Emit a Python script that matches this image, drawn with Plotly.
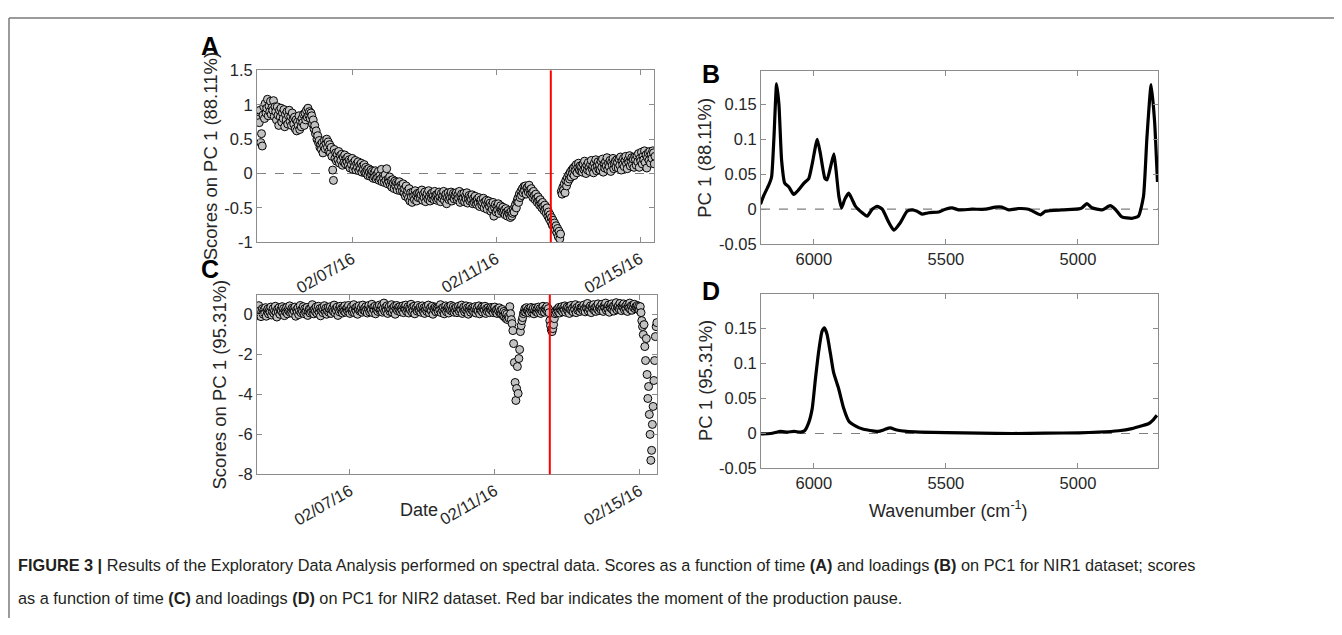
import pandas as pd
import plotly.graph_objects as go

SCREEN_W, SCREEN_H = 1342, 635
PAGE_MARGIN = 8  # default body margin of the html page
W, H = SCREEN_W - 2 * PAGE_MARGIN, SCREEN_H - 2 * PAGE_MARGIN

# ---------------- data ----------------
nir1_start = "2016-02-04 09:00"
nir2_start = "2016-02-04 10:00"
sampling = "30min"
pause_time = "2016-02-12 12:30"

date_tickvals = ["2016-02-07", "2016-02-11", "2016-02-15"]
date_ticktext = ["02/07/16", "02/11/16", "02/15/16"]

# PC1 scores, NIR1 (one row = 12 h)
scores_nir1 = [
    0.82, 0.90, 0.74, 0.92, 0.45, 0.58, 0.40, 0.85, 0.97, 0.80, 1.02, 0.88, 0.95, 1.08, 0.84, 0.98, 0.90, 1.05, 0.86, 0.96, 0.92, 1.06, 0.83, 0.97,
    0.90, 0.78, 0.97, 0.85, 0.70, 0.92, 0.82, 0.95, 0.75, 0.88, 0.80, 0.93, 0.68, 0.86, 0.78, 0.90, 0.72, 0.84, 0.92, 0.76, 0.83, 0.70, 0.88, 0.79,
    0.72, 0.82, 0.65, 0.78, 0.62, 0.75, 0.70, 0.84, 0.64, 0.76, 0.68, 0.80, 0.74, 0.86, 0.70, 0.88, 0.78, 0.92, 0.82, 0.95, 0.85, 0.90, 0.80, 0.88,
    0.84, 0.72, 0.78, 0.65, 0.70, 0.58, 0.62, 0.50, 0.55, 0.45, 0.48, 0.38, 0.42, 0.35, 0.45, 0.30, 0.40, 0.48, 0.36, 0.44, 0.50, 0.38, 0.46, 0.32,
    0.42, 0.30, 0.38, 0.25, 0.05, -0.10, 0.35, 0.22, 0.30, 0.18, 0.28, 0.20, 0.32, 0.15, 0.26, 0.19, 0.28, 0.12, 0.24, 0.16, 0.27, 0.14, 0.22, 0.17,
    0.24, 0.12, 0.20, 0.08, 0.18, 0.13, 0.22, 0.06, 0.16, 0.10, 0.19, 0.05, 0.14, 0.09, 0.17, 0.04, 0.12, 0.07, 0.15, 0.02, 0.11, 0.06, 0.13, 0.01,
    0.09, 0.00, 0.06, -0.03, 0.07, 0.02, -0.04, 0.05, -0.02, 0.03, -0.07, 0.01, -0.05, 0.04, -0.08, -0.01, -0.06, 0.03, -0.10, -0.03, -0.08, 0.06, -0.12, -0.04,
    -0.07, -0.13, -0.02, -0.10, 0.07, -0.15, -0.08, -0.12, -0.05, -0.17, -0.10, -0.20, -0.09, -0.14, -0.22, -0.11, -0.18, -0.13, -0.24, -0.15, -0.19, -0.12, -0.25, -0.17,
    -0.20, -0.26, -0.15, -0.28, -0.22, -0.33, -0.18, -0.30, -0.25, -0.36, -0.22, -0.40, -0.28, -0.34, -0.42, -0.27, -0.33, -0.38, -0.25, -0.31, -0.40, -0.29, -0.35, -0.30,
    -0.28, -0.36, -0.31, -0.24, -0.39, -0.30, -0.35, -0.27, -0.41, -0.33, -0.29, -0.37, -0.25, -0.34, -0.40, -0.30, -0.36, -0.28, -0.33, -0.38, -0.26, -0.35, -0.31, -0.39,
    -0.30, -0.37, -0.27, -0.34, -0.41, -0.29, -0.36, -0.32, -0.26, -0.39, -0.33, -0.30, -0.44, -0.35, -0.28, -0.38, -0.32, -0.36, -0.27, -0.40, -0.34, -0.29, -0.37, -0.31,
    -0.33, -0.28, -0.38, -0.31, -0.36, -0.26, -0.42, -0.34, -0.30, -0.39, -0.35, -0.29, -0.41, -0.33, -0.37, -0.28, -0.43, -0.36, -0.32, -0.40, -0.34, -0.38, -0.31, -0.44,
    -0.36, -0.42, -0.33, -0.40, -0.45, -0.37, -0.43, -0.35, -0.48, -0.40, -0.38, -0.46, -0.42, -0.36, -0.50, -0.41, -0.45, -0.39, -0.52, -0.44, -0.40, -0.48, -0.43, -0.55,
    -0.46, -0.52, -0.42, -0.62, -0.50, -0.45, -0.56, -0.48, -0.53, -0.44, -0.58, -0.50, -0.47, -0.55, -0.52, -0.49, -0.57, -0.53, -0.60, -0.51, -0.56, -0.62, -0.54, -0.58,
    -0.60, -0.64, -0.55, -0.62, -0.58, -0.52, -0.56, -0.48, -0.45, -0.50, -0.40, -0.36, -0.42, -0.30, -0.35, -0.26, -0.32, -0.22, -0.28, -0.19, -0.25, -0.18, -0.30, -0.21,
    -0.20, -0.27, -0.17, -0.24, -0.30, -0.22, -0.28, -0.35, -0.26, -0.32, -0.38, -0.30, -0.36, -0.42, -0.34, -0.40, -0.46, -0.38, -0.44, -0.50, -0.42, -0.48, -0.54, -0.46,
    -0.52, -0.58, -0.50, -0.62, -0.56, -0.66, -0.60, -0.70, -0.64, -0.75, -0.68, -0.78, -0.72, -0.82, -0.76, -0.86, -0.80, -0.92, -0.84, -0.95, -0.88, -0.26, -0.30, -0.20,
    -0.24, -0.15, -0.28, -0.10, -0.18, -0.06, -0.12, -0.02, -0.08, 0.02, -0.05, 0.05, 0.00, 0.08, -0.03, 0.10, 0.04, 0.13, 0.01, 0.09, 0.15, 0.05, 0.11, 0.03,
    0.10, 0.02, 0.14, 0.06, 0.18, 0.08, 0.00, 0.12, 0.05, 0.16, 0.09, 0.03, 0.13, 0.19, 0.07, 0.11, 0.01, 0.15, 0.08, 0.20, 0.04, 0.12, 0.17, 0.06,
    0.13, 0.05, 0.18, 0.09, 0.21, 0.02, 0.14, 0.08, 0.17, 0.11, 0.23, 0.06, 0.15, 0.10, 0.19, 0.03, 0.16, 0.12, 0.22, 0.07, 0.14, 0.18, 0.09, 0.20,
    0.16, 0.08, 0.21, 0.12, 0.24, 0.05, 0.18, 0.13, 0.22, 0.10, 0.19, 0.25, 0.14, 0.07, 0.20, 0.16, 0.26, 0.11, 0.18, 0.23, 0.13, 0.21, 0.09, 0.24,
    0.20, 0.12, 0.26, 0.17, 0.29, 0.09, 0.22, 0.18, 0.31, 0.14, 0.25, 0.20, 0.33, 0.16, 0.27, 0.08, 0.23, 0.30, 0.19, 0.32, 0.15, 0.28, 0.22, 0.33,
    0.30, 0.14, 0.25,
]

# PC1 scores, NIR2 (one row = 12 h)
scores_nir2 = [
    0.05, -0.05, 0.10, 0.45, 0.00, 0.20, -0.10, 0.15, 0.30, 0.02, 0.25, 0.08, 0.35, -0.08, 0.18, 0.28, 0.04, 0.22, 0.12, 0.38, -0.02, 0.16, 0.30, 0.06,
    0.20, 0.42, 0.10, -0.12, 0.28, 0.14, 0.35, 0.02, 0.24, 0.18, 0.40, 0.08, 0.30, -0.05, 0.22, 0.12, 0.36, 0.04, 0.26, 0.16, 0.44, 0.10, 0.20, 0.32,
    0.06, 0.28, 0.18, 0.38, -0.08, 0.24, 0.14, 0.34, 0.00, 0.20, 0.46, 0.10, 0.26, 0.16, 0.40, 0.05, 0.30, 0.12, 0.22, 0.36, -0.04, 0.18, 0.28, 0.08,
    0.32, 0.14, 0.50, 0.20, 0.04, 0.28, 0.16, 0.38, 0.08, 0.24, 0.42, 0.12, 0.30, -0.06, 0.22, 0.34, 0.10, 0.26, 0.45, 0.15, 0.32, 0.02, 0.20, 0.36,
    0.12, 0.28, 0.40, 0.06, 0.24, 0.34, 0.16, 0.48, 0.10, 0.30, 0.20, 0.38, -0.04, 0.26, 0.14, 0.42, 0.22, 0.32, 0.08, 0.36, 0.18, 0.44, 0.12, 0.28,
    0.34, 0.16, 0.46, 0.22, 0.06, 0.30, 0.40, 0.14, 0.26, 0.50, 0.10, 0.32, 0.20, 0.38, 0.02, 0.28, 0.44, 0.18, 0.24, 0.36, 0.12, 0.48, 0.22, 0.30,
    0.18, 0.40, 0.26, 0.08, 0.34, 0.46, 0.14, 0.30, 0.22, 0.52, 0.10, 0.36, 0.24, 0.42, 0.04, 0.28, 0.38, 0.16, 0.32, 0.48, 0.20, 0.26, 0.44, 0.12,
    0.30, 0.58, 0.18, 0.36, 0.24, 0.44, 0.06, 0.32, 0.40, 0.16, 0.28, 0.50, 0.12, 0.34, 0.22, 0.42, 0.02, 0.30, 0.46, 0.20, 0.36, 0.26, 0.40, 0.14,
    0.32, 0.22, 0.44, 0.10, 0.36, 0.28, 0.48, 0.16, 0.30, 0.40, 0.08, 0.34, 0.24, 0.52, 0.14, 0.38, 0.20, 0.42, 0.04, 0.30, 0.36, 0.18, 0.46, 0.26,
    0.22, 0.38, 0.12, 0.30, 0.44, 0.18, 0.34, 0.06, 0.28, 0.40, 0.16, 0.32, 0.48, 0.10, 0.26, 0.36, 0.20, 0.42, 0.02, 0.30, 0.24, 0.38, 0.14, 0.34,
    0.28, 0.16, 0.40, 0.24, 0.50, 0.10, 0.32, 0.20, 0.36, 0.04, 0.26, 0.44, 0.14, 0.30, 0.38, 0.08, 0.34, 0.22, 0.46, 0.18, 0.28, 0.40, 0.12, 0.32,
    0.20, 0.36, 0.10, 0.28, 0.42, 0.16, 0.32, 0.24, 0.48, 0.06, 0.30, 0.38, 0.14, 0.26, 0.44, 0.18, 0.34, 0.02, 0.28, 0.40, 0.12, 0.30, 0.22, 0.36,
    0.14, 0.30, 0.40, 0.08, 0.26, 0.36, 0.18, 0.44, 0.04, 0.28, 0.20, 0.38, 0.12, 0.32, 0.24, 0.42, 0.06, 0.30, 0.16, 0.34, 0.22, 0.10, 0.28, 0.36,
    0.20, 0.32, 0.10, 0.28, 0.38, 0.14, 0.24, 0.06, 0.30, 0.18, 0.34, 0.08, 0.22, 0.02, 0.26, -0.05, 0.16, -0.12, 0.08, -0.20, 0.02, -0.25, -0.10, -0.18,
    0.40, 0.05, -0.25, -0.45, -0.80, -1.45, -2.40, -3.40, -4.30, -3.70, -2.60, -3.95, -2.20, -1.75, -0.85, -0.55, -0.30, -0.15, 0.05, 0.15, 0.30, 0.12, 0.35, 0.20,
    0.18, 0.30, 0.08, 0.26, 0.36, 0.12, 0.24, 0.32, 0.04, 0.22, 0.34, 0.14, 0.28, 0.10, 0.38, 0.20, 0.30, 0.06, 0.26, 0.16, 0.42, 0.22, 0.12, 0.30,
    0.25, 0.40, 0.15, 0.30, 0.10, -0.30, -0.55, -0.75, -0.85, -0.70, -0.50, -0.20, 0.05, 0.20, 0.10, 0.28, 0.16, 0.36, 0.08, 0.30, 0.22, 0.40, 0.14, 0.32,
    0.24, 0.44, 0.12, 0.30, 0.38, 0.18, 0.34, 0.06, 0.28, 0.46, 0.20, 0.32, 0.14, 0.40, 0.26, 0.50, 0.10, 0.36, 0.22, 0.30, 0.44, 0.16, 0.34, 0.28,
    0.36, 0.20, 0.48, 0.28, 0.14, 0.40, 0.32, 0.56, 0.18, 0.34, 0.26, 0.44, 0.10, 0.38, 0.30, 0.50, 0.22, 0.36, 0.16, 0.42, 0.28, 0.54, 0.20, 0.34,
    0.40, 0.24, 0.52, 0.30, 0.16, 0.44, 0.36, 0.58, 0.22, 0.38, 0.28, 0.48, 0.12, 0.40, 0.32, 0.54, 0.26, 0.42, 0.18, 0.46, 0.34, 0.60, 0.24, 0.38,
    0.44, 0.28, 0.56, 0.34, 0.20, 0.46, 0.38, 0.54, 0.24, 0.40, 0.30, 0.50, 0.16, 0.42, 0.34, 0.58, 0.26, 0.44, 0.22, 0.48, 0.36, 0.52, 0.30, 0.40,
    0.38, 0.46, 0.28, 0.42, 0.22, 0.40, 0.10, -0.30, -0.60, -1.00, -0.50, -1.60, -2.30, -1.20, -3.00, -4.20, -3.60, -5.00, -6.00, -7.30, -6.80, -5.50, -4.60, -3.30,
    -2.30, -1.10, -0.60, -0.40,
]

# PC1 loadings, NIR1
wn_nir1 = [6202, 6189, 6170, 6160, 6151, 6141, 6132, 6122, 6110, 6095, 6076, 6057, 6038, 6019, 6006,
           5987, 5975, 5958, 5950, 5937, 5924, 5916, 5905, 5895, 5883, 5868, 5855, 5842, 5817, 5798,
           5779, 5760, 5741, 5716, 5697, 5672, 5647, 5628, 5609, 5590, 5565, 5527, 5502, 5477, 5451,
           5401, 5351, 5313, 5288, 5262, 5224, 5187, 5142, 5124, 5061, 4997, 4985, 4966, 4947, 4909,
           4878, 4859, 4834, 4796, 4771, 4752, 4739, 4723, 4710, 4699]
loadings_nir1 = [0.007, 0.020, 0.035, 0.046, 0.102, 0.179, 0.149, 0.070, 0.037, 0.032, 0.021, 0.028, 0.037, 0.044, 0.065,
                 0.100, 0.079, 0.044, 0.042, 0.060, 0.079, 0.056, 0.018, 0.002, 0.014, 0.023, 0.014, 0.004, -0.005, -0.010,
                 0.000, 0.004, 0.000, -0.019, -0.030, -0.019, -0.003, -0.001, -0.003, -0.007, -0.005, -0.004, 0.000, 0.002, -0.001,
                 0.000, 0.000, 0.003, 0.003, -0.001, 0.001, 0.000, -0.008, -0.003, -0.001, 0.0005, 0.002, 0.008, 0.002, -0.001,
                 0.005, 0.000, -0.011, -0.013, -0.010, 0.018, 0.102, 0.178, 0.126, 0.039]

# PC1 loadings, NIR2
wn_nir2 = [6201, 6163, 6125, 6100, 6075, 6050, 6035, 6019, 6006, 5994, 5981, 5969, 5960, 5950, 5937,
           5925, 5906, 5887, 5868, 5843, 5812, 5780, 5755, 5734, 5711, 5686, 5649, 5599, 5498, 5373,
           5247, 5122, 4996, 4921, 4846, 4796, 4758, 4733, 4714, 4701]
loadings_nir2 = [-0.0005, 0.000, 0.003, 0.002, 0.003, 0.002, 0.004, 0.016, 0.036, 0.078, 0.119, 0.146, 0.151, 0.142, 0.114,
                 0.087, 0.064, 0.036, 0.018, 0.011, 0.006, 0.004, 0.003, 0.0055, 0.008, 0.005, 0.003, 0.002, 0.0014, 0.0005,
                 0.000, 0.0005, 0.001, 0.002, 0.004, 0.007, 0.011, 0.014, 0.020, 0.026]

yticks_a = [-1, -0.5, 0, 0.5, 1, 1.5]
yticks_a_text = ["-1", "-0.5", "0", "0.5", "1", "1.5"]
yticks_c = [-8, -6, -4, -2, 0]
yticks_c_text = ["-8", "-6", "-4", "-2", "0"]
yticks_load = [-0.05, 0, 0.05, 0.1, 0.15]
yticks_load_text = ["-0.05", "0", "0.05", "0.1", "0.15"]
wn_ticks = [6000, 5500, 5000]

# ---------------- figure ----------------
t_nir1 = pd.date_range(nir1_start, periods=len(scores_nir1), freq=sampling)
t_nir2 = pd.date_range(nir2_start, periods=len(scores_nir2), freq=sampling)


def fx(p):
    """screen pixel -> paper x"""
    return (p - PAGE_MARGIN) / W


def fy(p):
    """screen pixel -> paper y"""
    return 1 - (p - PAGE_MARGIN) / H


FONT = "Liberation Sans, Arial, Helvetica, sans-serif"
TXT = "#262626"
AX = "#8c8c8c"

axis_style = dict(showline=True, linecolor=AX, linewidth=1, mirror="allticks",
                  ticks="inside", ticklen=5, tickcolor=AX, tickwidth=1,
                  showgrid=False, zeroline=False,
                  tickfont=dict(family=FONT, size=16.5, color=TXT))

marker = dict(size=8, color="#c2c2c2", line=dict(color="#000000", width=1.0))

fig = go.Figure()
fig.add_trace(go.Scatter(x=t_nir1, y=scores_nir1, mode="markers", marker=marker,
                         xaxis="x", yaxis="y", hoverinfo="skip"))
fig.add_trace(go.Scatter(x=wn_nir1, y=loadings_nir1, mode="lines",
                         line=dict(color="black", width=3.2, shape="spline", smoothing=0.5),
                         xaxis="x2", yaxis="y2", hoverinfo="skip"))
fig.add_trace(go.Scatter(x=t_nir2, y=scores_nir2, mode="markers", marker=marker,
                         xaxis="x3", yaxis="y3", hoverinfo="skip"))
fig.add_trace(go.Scatter(x=wn_nir2, y=loadings_nir2, mode="lines",
                         line=dict(color="black", width=3.2, shape="spline", smoothing=0.5),
                         xaxis="x4", yaxis="y4", hoverinfo="skip"))

fig.update_layout(
    width=W, height=H, margin=dict(l=0, r=0, t=0, b=0),
    paper_bgcolor="white", plot_bgcolor="white", showlegend=False,
    xaxis=dict(axis_style, type="date", domain=[fx(257), fx(654)], anchor="y",
               range=["2016-02-04 08:30", "2016-02-15 09:20"],
               tickvals=date_tickvals, ticktext=date_ticktext, tickangle=-30),
    yaxis=dict(axis_style, domain=[fy(240), fy(63)], anchor="x", range=[-1, 1.5],
               tickvals=yticks_a, ticktext=yticks_a_text),
    xaxis2=dict(axis_style, domain=[fx(761), fx(1158)], anchor="y2", range=[6200, 4697],
                tickvals=wn_ticks, ticktext=[str(v) for v in wn_ticks]),
    yaxis2=dict(axis_style, domain=[fy(242), fy(64)], anchor="x2", range=[-0.05, 0.197],
                tickvals=yticks_load, ticktext=yticks_load_text),
    xaxis3=dict(axis_style, type="date", domain=[fx(257), fx(657)], anchor="y3",
                range=["2016-02-04 10:20", "2016-02-15 11:35"],
                tickvals=date_tickvals, ticktext=date_ticktext, tickangle=-30),
    yaxis3=dict(axis_style, domain=[fy(479), fy(294)], anchor="x3", range=[-8, 1],
                tickvals=yticks_c, ticktext=yticks_c_text),
    xaxis4=dict(axis_style, domain=[fx(761), fx(1158)], anchor="y4", range=[6200, 4697],
                tickvals=wn_ticks, ticktext=[str(v) for v in wn_ticks]),
    yaxis4=dict(axis_style, domain=[fy(473), fy(293)], anchor="x4", range=[-0.05, 0.2],
                tickvals=yticks_load, ticktext=yticks_load_text),
)

dash = dict(color="#7f7f7f", width=1.2, dash="dash")
shapes = []
for xa, ya in [("x", "y"), ("x2", "y2"), ("x4", "y4")]:
    shapes.append(dict(type="line", xref=f"{xa} domain", yref=ya, x0=0, x1=1, y0=0, y1=0,
                       line=dash, layer="below"))
for xa, ya in [("x", "y"), ("x3", "y3")]:
    shapes.append(dict(type="line", xref=xa, yref=f"{ya} domain", x0=pause_time, x1=pause_time,
                       y0=0, y1=1, line=dict(color="#ff0000", width=2), layer="above"))
# figure frame (top and left)
shapes.append(dict(type="line", xref="paper", yref="paper", x0=fx(9), x1=1, y0=fy(9), y1=fy(9),
                   line=dict(color="#7a7a7a", width=1.5)))
shapes.append(dict(type="line", xref="paper", yref="paper", x0=fx(9), x1=fx(9), y0=0, y1=fy(9),
                   line=dict(color="#7a7a7a", width=1.5)))
fig.update_layout(shapes=shapes)

ann = []


def text(px, py, s, size=17, bold=False, angle=0, anchor="center", color=TXT):
    ann.append(dict(xref="paper", yref="paper", x=fx(px), y=fy(py), text=(f"<b>{s}</b>" if bold else s),
                    showarrow=False, xanchor=anchor, yanchor="middle", textangle=angle,
                    font=dict(family=FONT, size=size, color=color)))


text(210, 38, "A", size=25, bold=True, color="black")
text(711, 67, "B", size=25, bold=True, color="black")
text(210, 268, "C", size=25, bold=True, color="black")
text(711, 290, "D", size=25, bold=True, color="black")

text(210, 151.5, "Scores on PC 1 (88.11%)", size=18.5, angle=-90)
text(219, 386.5, "Scores on PC 1 (95.31%)", size=18.5, angle=-90)
text(705, 153, "PC 1 (88.11%)", size=18.5, angle=-90)
text(705, 383, "PC 1 (95.31%)", size=18.5, angle=-90)

text(419, 516, "Date", size=18)
text(948, 515, "Wavenumber (cm<sup>-1</sup>)", size=18)

cap = "#231f20"
text(16, 572, "<b>FIGURE 3 |</b> Results of the Exploratory Data Analysis performed on spectral data. "
     "Scores as a function of time <b>(A)</b> and loadings <b>(B)</b> on PC1 for NIR1 dataset; scores",
     size=16.3, anchor="left", color=cap)
text(16, 606, "as a function of time <b>(C)</b> and loadings <b>(D)</b> on PC1 for NIR2 dataset. "
     "Red bar indicates the moment of the production pause.",
     size=16.3, anchor="left", color=cap)

fig.update_layout(annotations=ann)

fig.write_html("out.html")
